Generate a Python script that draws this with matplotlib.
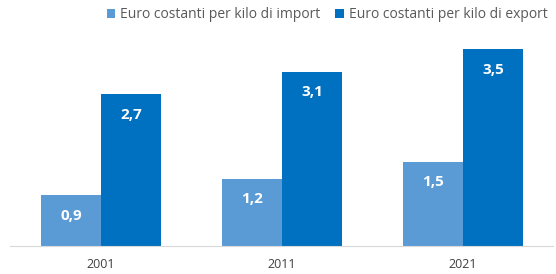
import numpy as np
import matplotlib
matplotlib.use("Agg")
import matplotlib.pyplot as plt

plt.rcParams['font.family'] = ['Open Sans', 'DejaVu Sans']

anni = ['2001', '2011', '2021']
import_kg = [0.9, 1.2, 1.5]
export_kg = [2.7, 3.1, 3.5]
etichette = ['Euro costanti per kilo di import', 'Euro costanti per kilo di export']
colori = ['#5B9BD5', '#0070C0']

fig = plt.figure(figsize=(5.56, 2.74), dpi=100)
ax = fig.add_axes([10/556, 28/274, 543/556, 225/274])

x = np.arange(len(anni))
w = 0.331
b1 = ax.bar(x - w/2, import_kg, w, color=colori[0], label=etichette[0])
b2 = ax.bar(x + w/2, export_kg, w, color=colori[1], label=etichette[1])

for barre, vals in [(b1, import_kg), (b2, export_kg)]:
    for r, v in zip(barre, vals):
        ax.annotate(f'{v:.1f}'.replace('.', ','),
                    (r.get_x() + r.get_width()/2, r.get_height()),
                    xytext=(0, -15), textcoords='offset points',
                    ha='center', va='center', color='white',
                    fontsize=11, fontweight='bold')

ax.set_xlim(-0.503, 2.497)
ax.set_ylim(0, 4)
ax.set_xticks(x)
ax.set_xticklabels(anni, fontsize=9, color='#404040')
ax.tick_params(axis='x', length=0, pad=9)
ax.set_yticks([])
for s in ['top', 'right', 'left']:
    ax.spines[s].set_visible(False)
ax.spines['bottom'].set_color('#D9D9D9')

fig.legend(loc='center', bbox_to_anchor=(0.588, 1 - 15/274), ncol=2,
           frameon=False, fontsize=10, handlelength=0.6, handleheight=0.6,
           handletextpad=0.35, columnspacing=1.1, labelcolor='#595959')

fig.savefig('out.png', dpi=100)
